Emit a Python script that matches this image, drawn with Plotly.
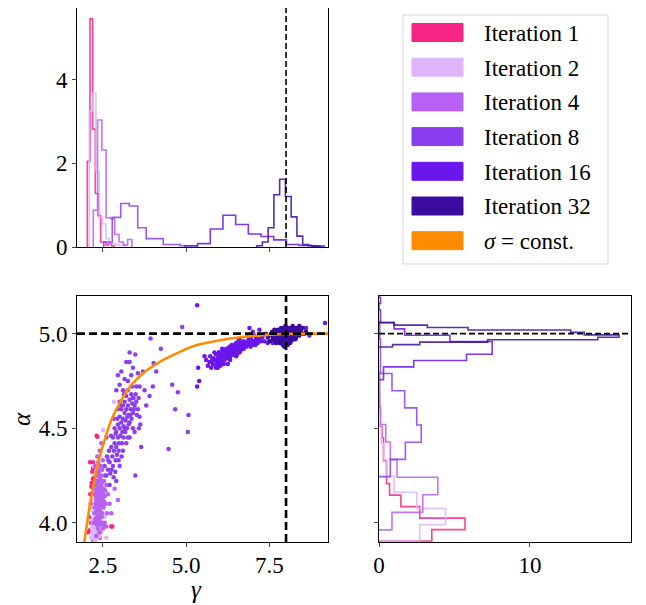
import numpy as np
import plotly.graph_objects as go

# ---------------- data ----------------
iter_labels = ["Iteration 1", "Iteration 2", "Iteration 4", "Iteration 8", "Iteration 16", "Iteration 32"]
iter_colors = ["#f72585", "#deb4fa", "#b760f4", "#8b3ef0", "#6a16ec", "#3c0ca0"]
const_label = "<i>σ</i> = const."
const_color = "#ff8c00"

# gamma marginal histograms (density), bins: start, width, heights
gamma_hist_start = [2.03, 2.089, 2.209, 2.524, 4.962, 7.116]
gamma_hist_width = [0.08, 0.1, 0.129, 0.255, 0.381, 0.173]
gamma_hist_1 = [2.05, 5.46, 2.82, 1.28, 0.75, 0.12, 0.12, 0.05, 0.1, 0.03]
gamma_hist_2 = [3.25, 3.68, 1.8, 0.71, 0.55, 0.2, 0.1, 0.08, 0.05, 0.04, 0.03]
gamma_hist_4 = [0.88, 3.04, 2.32, 0.7, 0.68, 0.3, 0.12, 0.05, 0.18]
gamma_hist_8 = [0.12, 0.71, 1.04, 0.98, 0.46, 0.2, 0.2, 0.06, 0.06, 0.03, 0.03]
gamma_hist_16 = [0.03, 0.08, 0.43, 0.76, 0.54, 0.31, 0.25, 0.17, 0.06, 0.04, 0.02]
gamma_hist_32 = [0.03, 0.12, 0.46, 1.25, 1.62, 1.21, 0.72, 0.26, 0.06, 0.03, 0.02]

# alpha marginal histograms (density), bottom-to-top
alpha_hist_start = [3.903, 3.903, 3.962, 4.244, 4.757, 4.929]
alpha_hist_width = [0.0607, 0.086, 0.0929, 0.0908, 0.0335, 0.0129]
alpha_hist_1 = [3.5, 5.7, 2.7, 1.45, 0.7, 0.5, 0.5, 0.3, 0.3, 0.2]
alpha_hist_2 = [2.7, 4.4, 2.5, 1.0, 0.5, 0.3, 0.15, 0.1, 0.05]
alpha_hist_4 = [0.86, 2.9, 3.9, 1.2, 0.75, 0.45, 0.1, 0.05, 0.05]
alpha_hist_8 = [0.75, 1.75, 2.8, 2.5, 1.7, 0.86, 0.1, 0.1, 0.05]
alpha_hist_16 = [0.3, 0.3, 2.3, 5.8, 7.5, 7.5, 4.7, 1.7, 1.0, 0.1, 0.1, 0.0, 0.1]
alpha_hist_32 = [0.9, 2.7, 7.2, 14.5, 15.9, 13.6, 12.7, 5.9, 3.2, 1.0]

# joint samples (gamma, alpha)
pts_1 = [(2.33, 4.454), (2.31, 4.46), (2.2, 4.32), (2.2, 4.29), (2.2, 4.234), (2.22, 4.216), (2.15, 4.19),
         (2.13, 4.1), (2.08, 4.03), (2.1, 3.96), (2.75, 3.98), (2.5, 3.99), (2.35, 3.93), (2.2, 3.91),
         (2.78, 3.98), (2.11, 4.32), (2.16, 4.21), (2.25, 4.24), (2.18, 4.27), (2.12, 4.15), (2.3, 4.22),
         (2.05, 3.95), (2.14, 4.0), (2.24, 4.05), (2.4, 3.92), (2.27, 4.12)]
pts_2 = [(2.15, 3.92), (2.18, 3.95), (2.2, 3.98), (2.2, 4.02), (2.22, 3.93), (2.23, 4.05), (2.25, 3.97),
         (2.25, 4.0), (2.27, 3.94), (2.28, 4.03), (2.3, 3.96), (2.3, 4.08), (2.32, 3.99), (2.33, 3.92),
         (2.35, 4.02), (2.35, 3.95), (2.38, 4.0), (2.4, 3.93), (2.42, 3.98), (2.45, 3.95), (2.2, 4.12),
         (2.25, 4.18), (2.3, 4.25), (2.15, 4.08), (2.5, 4.49), (2.83, 4.64), (2.6, 3.92), (2.55, 4.03),
         (2.35, 4.15), (2.22, 4.3), (2.4, 4.35), (2.28, 3.91), (2.37, 3.97), (2.19, 4.0), (2.26, 4.1),
         (2.31, 4.01), (2.24, 3.91), (2.34, 4.06), (2.17, 3.97), (2.21, 3.95), (2.23, 3.99), (2.26, 3.93),
         (2.29, 3.98), (2.32, 3.95), (2.36, 3.99), (2.39, 3.96), (2.21, 4.06), (2.27, 4.07), (2.33, 4.04),
         (2.18, 3.93)]
pts_4 = [(2.22, 4.0), (2.25, 4.05), (2.25, 4.15), (2.28, 4.1), (2.28, 4.22), (2.3, 4.0), (2.3, 4.08),
         (2.3, 4.18), (2.32, 4.25), (2.33, 4.03), (2.33, 4.12), (2.35, 4.2), (2.35, 4.07), (2.35, 3.97),
         (2.37, 4.15), (2.37, 4.28), (2.38, 4.1), (2.4, 4.02), (2.4, 4.18), (2.4, 4.23), (2.42, 4.06),
         (2.42, 4.13), (2.43, 4.3), (2.45, 4.0), (2.45, 4.1), (2.45, 4.2), (2.47, 4.16), (2.48, 4.05),
         (2.5, 4.12), (2.5, 4.22), (2.52, 4.08), (2.52, 4.18), (2.55, 4.14), (2.55, 4.25), (2.58, 4.1),
         (2.6, 4.2), (2.62, 4.05), (2.65, 4.15), (2.7, 4.1), (2.75, 4.05), (2.85, 4.18), (2.95, 4.12),
         (2.3, 3.93), (2.4, 3.95), (2.5, 3.97), (2.27, 4.3), (2.33, 4.35), (2.4, 4.38), (2.5, 4.33),
         (2.45, 4.42), (2.38, 4.27), (2.36, 4.04), (2.44, 4.25), (2.48, 4.28), (2.26, 4.2), (2.29, 4.14),
         (2.31, 4.06), (2.39, 4.14), (2.41, 4.09), (2.46, 4.03), (2.34, 4.17), (2.55, 4.0), (2.6, 3.98),
         (2.27, 4.02), (2.29, 4.17), (2.31, 4.12), (2.32, 4.2), (2.34, 4.1), (2.36, 4.22), (2.37, 4.01),
         (2.38, 4.19), (2.39, 4.07), (2.41, 4.16), (2.42, 4.24), (2.43, 4.04), (2.44, 4.14), (2.46, 4.21),
         (2.47, 4.09), (2.49, 4.18), (2.51, 4.15), (2.53, 4.22), (2.54, 4.11), (2.32, 3.99), (2.26, 4.08),
         (2.3, 4.3), (2.36, 4.32), (2.48, 4.0), (2.57, 4.17), (2.42, 3.99), (2.34, 4.27), (2.4, 4.11)]
pts_8 = [(2.55, 4.3), (2.6, 4.25), (2.62, 4.35), (2.65, 4.28), (2.68, 4.38), (2.7, 4.32), (2.72, 4.26),
         (2.75, 4.4), (2.78, 4.35), (2.8, 4.3), (2.8, 4.45), (2.83, 4.38), (2.85, 4.42), (2.88, 4.33),
         (2.9, 4.48), (2.9, 4.4), (2.92, 4.36), (2.95, 4.45), (2.95, 4.52), (2.98, 4.42), (3.0, 4.5),
         (3.0, 4.56), (3.02, 4.46), (3.05, 4.53), (3.05, 4.6), (3.08, 4.48), (3.1, 4.55), (3.1, 4.62),
         (3.12, 4.51), (3.15, 4.58), (3.15, 4.64), (3.18, 4.54), (3.2, 4.6), (3.2, 4.67), (3.22, 4.5),
         (3.25, 4.62), (3.28, 4.57), (3.3, 4.65), (3.3, 4.53), (3.33, 4.6), (3.35, 4.68), (3.38, 4.63),
         (3.4, 4.58), (3.42, 4.66), (3.45, 4.62), (3.5, 4.64), (3.55, 4.6), (3.6, 4.56), (3.62, 4.52),
         (3.3, 4.45), (3.45, 4.48), (2.9, 4.7), (2.95, 4.78), (3.0, 4.73), (3.05, 4.8), (3.15, 4.76),
         (3.2, 4.85), (3.3, 4.9), (3.47, 4.89), (3.4, 4.82), (3.55, 4.79), (3.7, 4.8), (3.75, 4.7),
         (3.6, 4.72), (3.93, 4.974), (4.24, 4.92), (4.1, 4.8), (4.02, 4.845), (4.58, 4.73), (4.75, 4.69),
         (4.67, 4.6), (5.07, 4.57), (5.05, 4.48), (4.47, 4.39), (3.47, 4.25), (3.0, 4.3), (3.1, 4.38),
         (2.7, 4.2), (2.9, 4.22), (3.8, 4.62), (3.9, 4.67), (4.0, 4.72), (4.88, 5.035), (3.65, 4.4),
         (2.6, 4.45), (2.85, 4.5), (2.88, 4.47), (2.93, 4.55), (2.97, 4.38), (3.03, 4.62), (3.07, 4.42),
         (3.12, 4.45), (3.13, 4.68), (3.17, 4.48), (3.23, 4.56), (3.24, 4.7), (3.27, 4.52), (3.32, 4.57),
         (3.36, 4.55), (3.37, 4.72), (3.39, 4.66), (3.43, 4.6), (3.48, 4.68), (3.52, 4.57), (3.57, 4.66),
         (3.58, 4.5), (2.76, 4.28), (2.82, 4.24), (2.87, 4.27), (2.97, 4.33), (3.06, 4.35), (2.66, 4.33),
         (2.74, 4.46), (3.25, 4.75), (3.35, 4.78), (3.1, 4.7), (3.0, 4.64), (2.95, 4.6), (3.2, 4.42),
         (3.4, 4.5), (3.5, 4.72), (3.3, 4.85), (3.15, 4.5), (3.25, 4.45), (2.82, 4.55)]
pts_16 = [(5.6, 4.86), (5.65, 4.83), (5.7, 4.85), (5.72, 4.88), (5.75, 4.82), (5.8, 4.84), (5.82, 4.87),
          (5.85, 4.86), (5.88, 4.83), (5.9, 4.89), (5.92, 4.85), (5.95, 4.87), (5.97, 4.84), (6.0, 4.88),
          (6.0, 4.9), (6.02, 4.86), (6.05, 4.85), (6.07, 4.89), (6.1, 4.87), (6.1, 4.91), (6.12, 4.88),
          (6.15, 4.86), (6.17, 4.9), (6.2, 4.88), (6.2, 4.92), (6.22, 4.89), (6.25, 4.87), (6.27, 4.91),
          (6.3, 4.9), (6.3, 4.93), (6.33, 4.88), (6.35, 4.92), (6.38, 4.9), (6.4, 4.94), (6.42, 4.91),
          (6.45, 4.89), (6.48, 4.93), (6.5, 4.91), (6.5, 4.95), (6.55, 4.92), (6.58, 4.94), (6.6, 4.9),
          (6.62, 4.93), (6.65, 4.95), (6.7, 4.92), (6.72, 4.96), (6.75, 4.94), (6.8, 4.93), (6.85, 4.96),
          (6.9, 4.95), (6.95, 4.97), (7.0, 4.94), (7.05, 4.96), (7.1, 4.98), (7.15, 4.95), (7.2, 4.97),
          (7.3, 4.99), (7.35, 4.96), (6.9, 5.03), (7.0, 5.01), (7.2, 5.02), (6.85, 4.99), (7.4, 5.0),
          (7.6, 4.95), (8.3, 5.02), (8.6, 5.03), (8.7, 4.99), (9.17, 5.056), (5.33, 5.15), (5.36, 4.82),
          (5.39, 4.75), (5.33, 4.72), (5.55, 4.88), (6.25, 4.84), (5.95, 4.82), (6.5, 4.88), (7.45, 4.95),
          (7.05, 4.99), (6.6, 4.97), (5.78, 4.86), (5.85, 4.9), (5.9, 4.82), (5.98, 4.9), (6.03, 4.83),
          (6.08, 4.92), (6.13, 4.84), (6.18, 4.87), (6.23, 4.91), (6.28, 4.88), (6.32, 4.86), (6.37, 4.94),
          (6.43, 4.93), (6.47, 4.91), (6.52, 4.89), (6.57, 4.96), (6.63, 4.91), (6.68, 4.94), (6.73, 4.92),
          (6.78, 4.95), (6.83, 4.94), (6.88, 4.97), (6.93, 4.93), (6.98, 4.96), (7.08, 4.94), (7.12, 4.97),
          (7.25, 4.96), (7.28, 4.98), (6.4, 4.89), (6.05, 4.87)]
pts_32 = [(7.55, 4.99), (7.6, 4.97), (7.62, 5.0), (7.65, 4.98), (7.68, 4.96), (7.7, 5.01), (7.72, 4.99),
          (7.75, 4.97), (7.75, 5.02), (7.78, 4.98), (7.8, 4.95), (7.8, 5.0), (7.82, 4.97), (7.85, 4.99),
          (7.85, 5.03), (7.87, 4.96), (7.88, 5.01), (7.9, 4.98), (7.9, 4.94), (7.92, 5.0), (7.93, 4.97),
          (7.95, 5.02), (7.96, 4.99), (7.97, 4.96), (7.98, 5.0), (8.0, 4.98), (8.0, 5.03), (8.02, 4.95),
          (8.03, 5.0), (8.05, 4.97), (8.05, 5.01), (8.07, 4.99), (8.08, 4.96), (8.1, 5.02), (8.1, 4.98),
          (8.12, 5.0), (8.13, 4.97), (8.15, 5.03), (8.15, 4.99), (8.18, 5.01), (8.2, 4.98), (8.2, 5.04),
          (8.22, 5.0), (8.25, 4.99), (8.25, 5.02), (8.28, 5.01), (8.3, 4.98), (8.32, 5.03), (8.35, 5.0),
          (8.38, 5.02), (8.4, 4.99), (8.45, 5.01), (8.5, 5.03), (8.55, 5.0), (7.45, 4.98), (7.5, 4.96),
          (7.58, 5.01), (7.95, 4.93), (8.05, 4.94), (7.7, 4.95), (8.4, 5.04), (7.85, 4.95), (8.12, 4.95),
          (7.98, 5.04), (8.28, 4.97), (7.65, 5.02), (8.6, 5.01), (8.15, 4.96), (7.92, 5.03), (7.78, 5.01),
          (7.62, 4.98), (7.67, 5.0), (7.73, 4.96), (7.77, 5.0), (7.83, 5.01), (7.84, 4.98), (7.89, 5.0),
          (7.91, 4.96), (7.94, 4.99), (7.99, 4.97), (8.01, 5.01), (8.04, 4.99), (8.06, 5.03), (8.09, 5.0),
          (8.11, 4.97), (8.14, 5.01), (8.17, 4.98), (8.19, 5.0), (8.21, 5.02), (8.23, 4.97), (8.24, 5.01),
          (8.27, 5.0), (8.29, 5.03), (8.31, 5.0), (8.33, 4.99), (8.36, 5.01), (8.42, 5.02), (8.47, 5.0),
          (7.96, 5.01), (8.02, 4.99), (7.88, 4.99), (7.81, 4.99), (8.08, 5.02), (8.16, 5.0), (7.74, 5.0),
          (8.26, 4.99)]

# sigma = const. curve
curve_gamma = [1.93, 1.95, 2.05, 2.15, 2.35, 2.55, 2.75, 3.05, 3.35, 3.75, 4.25, 4.75, 5.3, 6.1, 7.1, 8.1, 9.3]
curve_alpha = [3.88, 3.909, 4.03, 4.137, 4.314, 4.437, 4.542, 4.648, 4.727, 4.797, 4.855, 4.898, 4.938,
               4.968, 4.989, 4.998, 5.0]

true_gamma = 8.0
true_alpha = 5.0

gamma_hists = [gamma_hist_1, gamma_hist_2, gamma_hist_4, gamma_hist_8, gamma_hist_16, gamma_hist_32]
alpha_hists = [alpha_hist_1, alpha_hist_2, alpha_hist_4, alpha_hist_8, alpha_hist_16, alpha_hist_32]
samples = [pts_1, pts_2, pts_4, pts_8, pts_16, pts_32]

# ---------------- layout geometry ----------------
OFF = 8                     # page body margin
W, H = 646 - OFF, 605 - OFF
FONT = "serif"
FS = 23
g_range = [1.72, 9.26]
a_range = [3.898, 5.199]
top_y_range = [0, 5.72]
right_x_range = [0, 16.7]


def px(x):
    return (x - OFF) / W


def py(y):
    return 1 - (y - OFF) / H


def step_outline(start, width, heights):
    edges = start + width * np.arange(len(heights) + 1)
    pos = [edges[0]]
    val = [0.0]
    for i, h in enumerate(heights):
        pos += [edges[i], edges[i + 1]]
        val += [h, h]
    pos.append(edges[-1])
    val.append(0.0)
    return pos, val


fig = go.Figure()

for k in range(6):
    col = iter_colors[k]
    gx, gy = step_outline(gamma_hist_start[k], gamma_hist_width[k], gamma_hists[k])
    fig.add_trace(go.Scatter(x=gx, y=gy, mode="lines", line=dict(color=col, width=1.6),
                             opacity=0.85, xaxis="x", yaxis="y", showlegend=False))
    ay, ax = step_outline(alpha_hist_start[k], alpha_hist_width[k], alpha_hists[k])
    fig.add_trace(go.Scatter(x=ax, y=ay, mode="lines", line=dict(color=col, width=1.6),
                             opacity=0.85, xaxis="x3", yaxis="y3", showlegend=False))

for k in range(6):
    g = [p[0] for p in samples[k]]
    a = [p[1] for p in samples[k]]
    fig.add_trace(go.Scatter(x=g, y=a, mode="markers",
                             marker=dict(color=iter_colors[k], size=4.5),
                             xaxis="x2", yaxis="y2", showlegend=False))

fig.add_trace(go.Scatter(x=curve_gamma, y=curve_alpha, mode="lines",
                         line=dict(color=const_color, width=2.6, shape="spline"),
                         xaxis="x2", yaxis="y2", showlegend=False))

# true-value dashed reference lines
fig.add_trace(go.Scatter(x=[true_gamma, true_gamma], y=top_y_range, mode="lines",
                         line=dict(color="black", width=1.6, dash="6px,3px"),
                         xaxis="x", yaxis="y", showlegend=False))
fig.add_trace(go.Scatter(x=[true_gamma, true_gamma], y=a_range, mode="lines",
                         line=dict(color="black", width=2.6, dash="8px,4px"),
                         xaxis="x2", yaxis="y2", showlegend=False))
fig.add_trace(go.Scatter(x=g_range, y=[true_alpha, true_alpha], mode="lines",
                         line=dict(color="black", width=2.6, dash="8px,4px"),
                         xaxis="x2", yaxis="y2", showlegend=False))
fig.add_trace(go.Scatter(x=right_x_range, y=[true_alpha, true_alpha], mode="lines",
                         line=dict(color="black", width=1.6, dash="6px,3px"),
                         xaxis="x3", yaxis="y3", showlegend=False))

x_dom = [px(77), px(328)]
top_dom = [py(247), min(1.0, py(2))]
bot_dom = [py(542), py(296)]
r_dom = [px(379), px(631)]

tick_font = dict(family=FONT, size=FS, color="black")
axis_common = dict(showgrid=False, zeroline=False, showline=True, mirror=True, linecolor="black",
                   linewidth=1, ticks="outside", ticklen=4, automargin=False, tickfont=tick_font)

fig.update_layout(
    width=W, height=H, margin=dict(l=0, r=0, t=0, b=0), template="none",
    font=dict(family=FONT, size=FS, color="black"),
    showlegend=False,
    xaxis=dict(domain=x_dom, anchor="y", range=g_range, tickvals=[2.5, 5.0, 7.5], showticklabels=False,
               **axis_common),
    yaxis=dict(domain=top_dom, anchor="x", range=top_y_range, tickvals=[0, 2, 4], **axis_common),
    xaxis2=dict(domain=x_dom, anchor="y2", range=g_range, tickvals=[2.5, 5.0, 7.5],
                tickformat=".1f", ticklabelstandoff=-2, **axis_common),
    yaxis2=dict(domain=bot_dom, anchor="x2", range=a_range, tickvals=[4.0, 4.5, 5.0],
                tickformat=".1f", **axis_common),
    xaxis3=dict(domain=r_dom, anchor="y3", range=right_x_range, tickvals=[0, 10], ticklabelstandoff=-2,
                **axis_common),
    yaxis3=dict(domain=bot_dom, anchor="x3", range=a_range, tickvals=[4.0, 4.5, 5.0], showticklabels=False,
                **axis_common),
)

# legend box and patches
shapes = [dict(type="rect", xref="paper", yref="paper", x0=px(403), x1=px(608), y0=py(264), y1=py(15),
               line=dict(color="#d6d6d6", width=1), fillcolor="white")]
annotations = []
leg_labels = iter_labels + [const_label]
leg_colors = iter_colors + [const_color]
for i, (lab, col) in enumerate(zip(leg_labels, leg_colors)):
    cy = 32.5 + 34.7 * i
    shapes.append(dict(type="rect", xref="paper", yref="paper", x0=px(412), x1=px(463),
                       y0=py(cy - 9), y1=py(cy + 9), fillcolor=col, line=dict(color=col, width=1)))
    annotations.append(dict(text=lab, xref="paper", yref="paper", x=px(482), y=py(cy + 1),
                            xanchor="left", yanchor="middle", showarrow=False,
                            font=dict(family=FONT, size=FS, color="black")))

annotations.append(dict(text="<i>γ</i>", xref="paper", yref="paper", x=px(196), y=py(589),
                        xanchor="center", yanchor="middle", showarrow=False,
                        font=dict(family=FONT, size=25, color="black")))
annotations.append(dict(text="<i>α</i>", xref="paper", yref="paper", x=px(21), y=py(419),
                        xanchor="center", yanchor="middle", showarrow=False, textangle=-90,
                        font=dict(family=FONT, size=25, color="black")))

fig.update_layout(shapes=shapes, annotations=annotations)

fig.write_html("out.html")
